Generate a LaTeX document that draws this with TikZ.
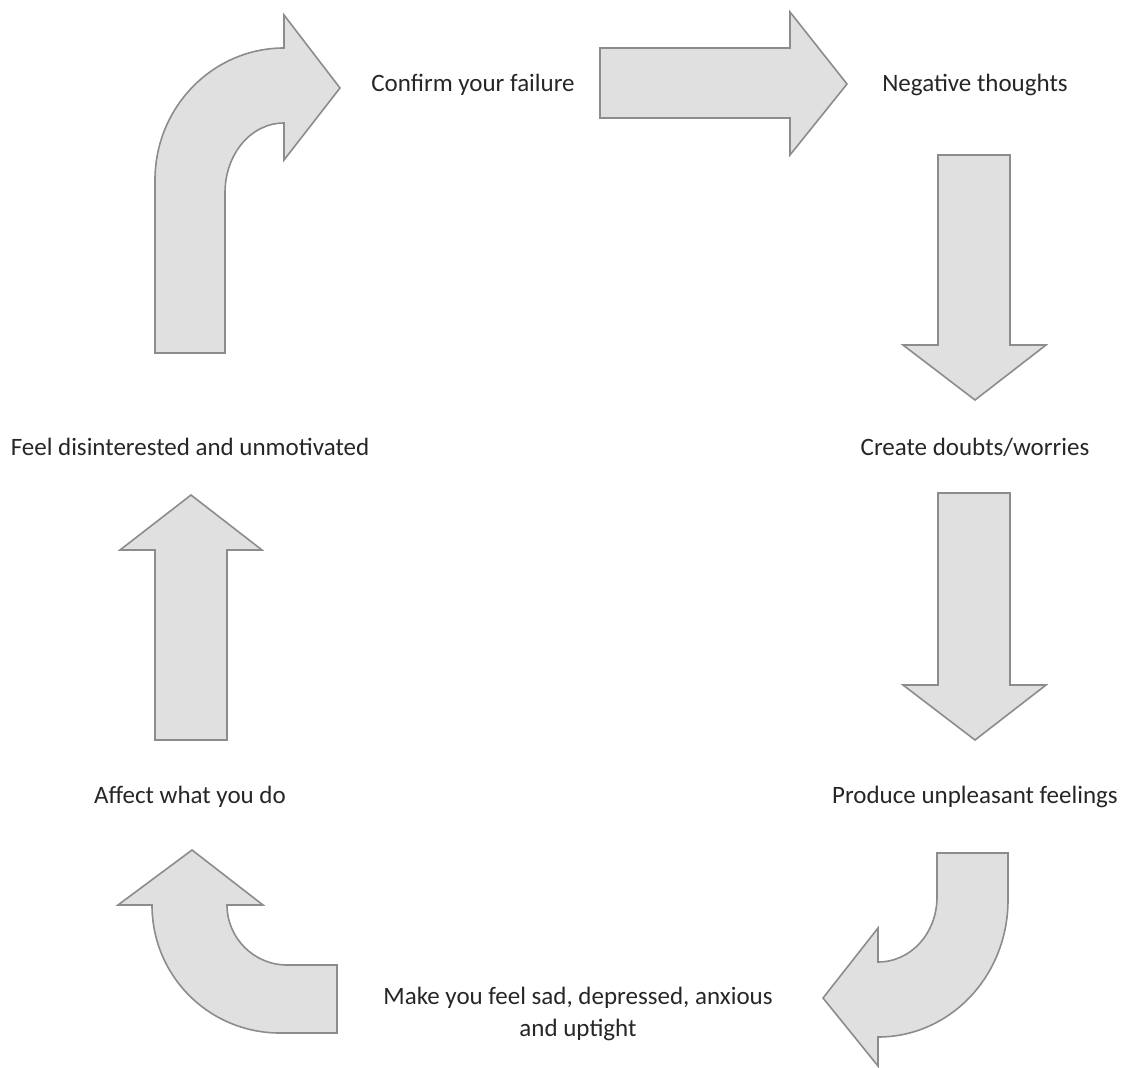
\documentclass[tikz,border=0pt]{standalone}
\usepackage{fontspec}
\setmainfont{Carlito}
\begin{document}
\begin{tikzpicture}[x=1pt,y=-1pt,
  blockarrow/.style={draw=black!45,fill=black!12,line width=1.6pt,line join=miter},
  label/.style={font=\fontsize{25}{32}\selectfont,text=black!85,align=center,inner sep=0pt}]
\useasboundingbox (0,0) rectangle (1138,1068);

% step labels
\node[label] (confirm)  at (473,85)  {Confirm your failure};
\node[label] (negative) at (975,85)  {Negative thoughts};
\node[label] (doubts)   at (975,447) {Create doubts/worries};
\node[label] (produce)  at (975,797) {Produce unpleasant feelings};
\node[label] (make)     at (578,1014) {Make you feel sad, depressed, anxious\\and uptight};
\node[label] (affect)   at (190,797) {Affect what you do};
\node[label] (feel)     at (190,447) {Feel disinterested and unmotivated};

% straight arrow: confirm -> negative
\draw[blockarrow] (600,48) -- (790,48) -- (790,12) -- (847,84) -- (790,155)
  -- (790,118) -- (600,118) -- cycle;

% down arrows on the right
\draw[blockarrow] (938,155) -- (1010,155) -- (1010,345) -- (1046,345) -- (975,400)
  -- (903,345) -- (938,345) -- cycle;
\draw[blockarrow] (938,493) -- (1010,493) -- (1010,685) -- (1046,685) -- (975,740)
  -- (903,685) -- (938,685) -- cycle;

% curved arrow bottom right
\draw[blockarrow] (937,853) -- (1008,853) -- (1008,900)
  .. controls (1008,976) and (950,1037) .. (878,1037)
  -- (878,1066) -- (823,998) -- (878,928) -- (878,962)
  .. controls (911,962) and (937,933) .. (937,897) -- cycle;

% curved arrow bottom left
\draw[blockarrow] (337,1033) -- (280,1033)
  .. controls (209,1033) and (152,976) .. (152,905)
  -- (118,905) -- (192,850) -- (263,905) -- (227,905)
  .. controls (227,938) and (254,965) .. (287,965)
  -- (337,965) -- cycle;

% up arrow on the left
\draw[blockarrow] (155,740) -- (155,550) -- (120,550) -- (191,495) -- (262,550)
  -- (227,550) -- (227,740) -- cycle;

% curved arrow top left
\draw[blockarrow] (155,353) -- (155,180)
  .. controls (155,107) and (213,48) .. (284,48)
  -- (284,15) -- (340,88) -- (284,160) -- (284,123)
  .. controls (251,123) and (225,154) .. (225,193)
  -- (225,353) -- cycle;
\end{tikzpicture}
\end{document}
